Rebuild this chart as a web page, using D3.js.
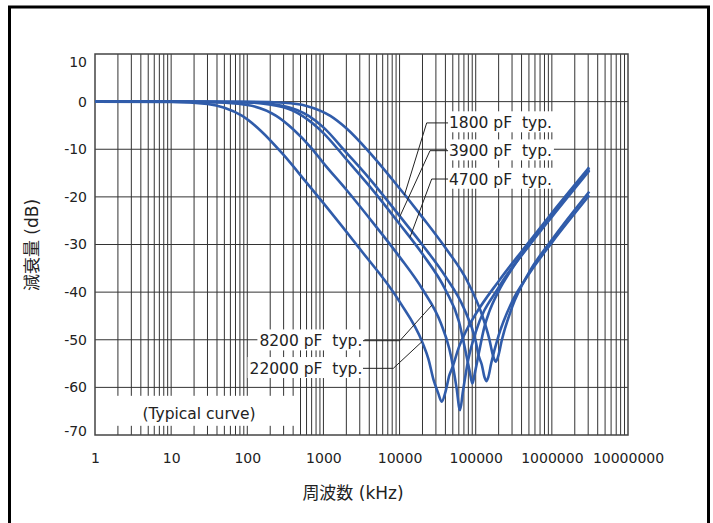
<!DOCTYPE html>
<html lang="ja">
<head>
  <meta charset="UTF-8">
  <title>減衰量 - 周波数特性</title>
  <script src="https://d3js.org/d3.v7.min.js"></script>
  <style>
    body { margin: 0; background: #fff; }
    svg text { font-family: "DejaVu Sans", "Noto Sans CJK JP", sans-serif; fill: #222; }
  </style>
</head>
<body>
  <div id="chart"></div>
  <script>
    // axis values
    const freqTicks = [1, 10, 100, 1000, 10000, 100000, 1000000, 10000000];
    const dbTicks = [10, 0, -10, -20, -30, -40, -50, -60, -70];

    // curves: [frequency kHz, attenuation dB]
    const curve1800 = [[1, 0], [10, 0], [100, -0.03], [300, -0.25], [600, -0.9], [1233, -3.0], [2000, -5.6],
      [4000, -10.6], [8000, -16.3], [20000, -24.3], [40000, -30.7], [80000, -38.1], [120000, -44.6],
      [150000, -49.7], [170000, -53.5], [183000, -54.6], [197000, -53.5], [220000, -50.1], [300000, -43.2],
      [500000, -35.9], [1000000, -29.0], [3100000, -18.9]];
    const curve3900 = [[1, 0], [10, 0], [100, -0.1], [300, -0.9], [640, -3.0], [1000, -5.4], [2000, -10.7],
      [4000, -16.1], [10000, -24.0], [20000, -30.1], [40000, -36.7], [70000, -43.4], [100000, -50.3],
      [110000, -53.5], [120000, -55.2], [130000, -57.8], [138000, -58.7], [146000, -57.9], [160000, -54.9],
      [200000, -49.1], [300000, -42.0], [500000, -36.2], [1000000, -29.6], [3100000, -19.7]];
    const curve4700 = [[1, 0], [10, 0], [100, -0.15], [300, -1.2], [528, -3.0], [1000, -6.6], [2000, -12.1],
      [4000, -17.7], [10000, -25.7], [20000, -32.0], [40000, -39.5], [60000, -46.1], [75000, -53.1],
      [83000, -56.5], [90500, -59.2], [98000, -56.8], [110000, -52.8], [130000, -47.3], [150000, -44.2],
      [200000, -39.8], [300000, -35.1], [500000, -30.1], [1000000, -23.9], [3100000, -14.2]];
    const curve8200 = [[1, 0], [10, -0.01], [30, -0.07], [100, -0.7], [240, -3.0], [400, -5.8], [700, -9.8],
      [1000, -12.9], [2000, -18.5], [5000, -26.4], [10000, -32.6], [20000, -39.4], [35000, -46.6],
      [45000, -51.9], [50000, -55.4], [56000, -60.1], [62100, -64.8], [68000, -60.8], [80000, -54.1],
      [100000, -48.4], [200000, -39.0], [500000, -30.3], [1000000, -24.2], [3100000, -14.5]];
    const curve22000 = [[1, 0], [10, -0.06], [30, -0.5], [50, -1.27], [86, -3.0], [150, -6.1], [300, -11.2],
      [600, -17.0], [1000, -21.3], [3000, -30.9], [10000, -42.0], [20000, -50.6], [24000, -54.1],
      [28000, -58.5], [32000, -61.1], [35700, -63.0], [40000, -61.0], [45000, -57.5], [50000, -55.6],
      [60000, -51.6], [70000, -49.1], [100000, -44.6], [200000, -37.7], [500000, -29.5], [1000000, -23.4],
      [3100000, -13.8]];

    const curves = [curve1800, curve3900, curve4700, curve8200, curve22000];

    // callout labels: text anchor (kHz, dB baseline) and leader polyline
    const calloutText = ["1800 pF  typ.", "3900 pF  typ.", "4700 pF  typ.", "8200 pF  typ.", "22000 pF  typ."];
    const calloutAt = [[44500, -5.6], [44500, -11.5], [44500, -17.45], [3250, -51.4], [3250, -57.2]];
    const calloutAnchor = ["start", "start", "start", "end", "end"];
    const calloutLeader = [
      [[43300, -4.47], [22700, -4.47], [11600, -19.6]],
      [[43300, -10.3], [25100, -10.3], [10100, -24.1]],
      [[43300, -16.25], [26400, -16.25], [13700, -28.5]],
      [[3310, -50.2], [10100, -50.2], [26700, -42.7]],
      [[3310, -56.0], [8280, -56.0], [19700, -50.4]]
    ];
    const noteText = "(Typical curve)";
    const noteAt = [23.2, -66.6];

    const width = 713, height = 523;
    const plot = { left: 95, right: 628, top: 54, bottom: 435 };
    const curveColor = "#305caa";

    const svg = d3.select("#chart").append("svg")
      .attr("width", width)
      .attr("height", height);

    const x = d3.scaleLog().domain([1, 1e7]).range([plot.left, plot.right]);
    const y = d3.scaleLinear().domain([10, -70]).range([plot.top, plot.bottom]);

    // outer frame
    svg.append("rect")
      .attr("x", 9.5).attr("y", 7)
      .attr("width", 699).attr("height", 560)
      .attr("fill", "none")
      .attr("stroke", "#000")
      .attr("stroke-width", 3);

    // grid lines (1-2-3...9 per decade)
    const gridFreqs = [];
    for (let e = 0; e < 7; e++) {
      for (let k = 1; k <= 9; k++) {
        const f = k * Math.pow(10, e);
        if (f > 1 && f < 1e7) gridFreqs.push(f);
      }
    }
    const grid = svg.append("g").attr("stroke", "#333").attr("stroke-width", 1);
    grid.selectAll(".vgrid")
      .data(gridFreqs)
      .enter()
      .append("line")
      .attr("x1", d => x(d)).attr("x2", d => x(d))
      .attr("y1", plot.top).attr("y2", plot.bottom);
    grid.selectAll(".hgrid")
      .data(dbTicks.slice(1, -1))
      .enter()
      .append("line")
      .attr("x1", plot.left).attr("x2", plot.right)
      .attr("y1", d => y(d)).attr("y2", d => y(d));

    const boxLayer = svg.append("g");

    // plot border
    svg.append("rect")
      .attr("x", plot.left).attr("y", plot.top)
      .attr("width", plot.right - plot.left)
      .attr("height", plot.bottom - plot.top)
      .attr("fill", "none")
      .attr("stroke", "#444")
      .attr("stroke-width", 1.5);

    // curves
    const line = d3.line()
      .x(d => x(d[0]))
      .y(d => y(d[1]))
      .curve(d3.curveMonotoneX);

    svg.append("g")
      .selectAll("path")
      .data(curves)
      .enter()
      .append("path")
      .attr("d", line)
      .attr("fill", "none")
      .attr("stroke", curveColor)
      .attr("stroke-width", 2.6)
      .attr("stroke-linejoin", "round");

    // leaders
    const leader = d3.line().x(d => x(d[0])).y(d => y(d[1]));
    svg.append("g")
      .selectAll("path")
      .data(calloutLeader)
      .enter()
      .append("path")
      .attr("d", leader)
      .attr("fill", "none")
      .attr("stroke", "#222")
      .attr("stroke-width", 1);

    // callout texts with white boxes behind them
    const labels = svg.append("g")
      .selectAll("text")
      .data(calloutText)
      .enter()
      .append("text")
      .attr("x", (d, i) => x(calloutAt[i][0]))
      .attr("y", (d, i) => y(calloutAt[i][1]))
      .attr("text-anchor", (d, i) => calloutAnchor[i])
      .style("white-space", "pre")
      .style("font-size", "15.5px")
      .text(d => d);

    labels.each(function () {
      const b = this.getBBox();
      boxLayer.append("rect")
        .attr("x", b.x - 2).attr("y", b.y - 3)
        .attr("width", b.width + 4).attr("height", b.height + 3)
        .attr("fill", "#fff");
    });

    const note = svg.append("text")
      .attr("x", x(noteAt[0]))
      .attr("y", y(noteAt[1]))
      .attr("text-anchor", "middle")
      .style("font-size", "15.5px")
      .text(noteText);
    const nb = note.node().getBBox();
    boxLayer.append("rect")
      .attr("x", nb.x - 41).attr("y", nb.y - 9)
      .attr("width", nb.width + 82).attr("height", nb.height + 12)
      .attr("fill", "#fff");

    // axes (labels only)
    const xAxis = svg.append("g")
      .attr("transform", "translate(0," + plot.bottom + ")")
      .call(d3.axisBottom(x).tickValues(freqTicks).tickFormat(d3.format("d")).tickSize(0).tickPadding(18));
    xAxis.select(".domain").remove();
    xAxis.attr("font-size", 14).attr("font-family", null).attr("color", "#222");

    const yAxis = svg.append("g")
      .attr("transform", "translate(" + plot.left + ",0)")
      .call(d3.axisLeft(y).tickValues(dbTicks).tickFormat(d3.format("d")).tickSize(0).tickPadding(8));
    yAxis.select(".domain").remove();
    yAxis.attr("font-size", 14).attr("font-family", null).attr("color", "#222");
    yAxis.selectAll("text")
      .text(d => String(d))
      .attr("dy", d => d === 10 ? "0.9em" : d === -70 ? "0.07em" : "0.32em");

    // axis titles
    svg.append("text")
      .attr("transform", "translate(38,245) rotate(-90)")
      .attr("text-anchor", "middle")
      .style("font-size", "17px")
      .text("減衰量 (dB)");

    svg.append("text")
      .attr("x", 353)
      .attr("y", 499)
      .attr("text-anchor", "middle")
      .style("font-size", "17px")
      .text("周波数 (kHz)");
  </script>
</body>
</html>
